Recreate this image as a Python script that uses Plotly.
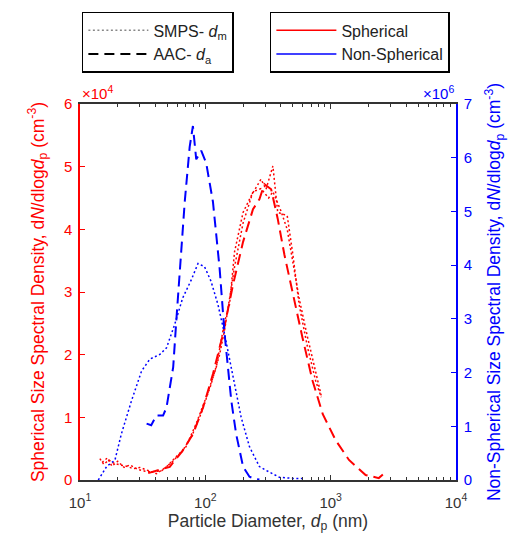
import plotly.graph_objects as go

# ---- data (diameter nm, values) ----
aac_ns_d = [34, 37, 40.7, 46, 49, 55.4, 58.8, 62.5, 68.5, 75, 79.6, 84.6, 92.7, 101.6, 115, 130, 142.6, 161, 176, 200, 225, 250, 270]
aac_ns_v = [1.05, 1.02, 1.2, 1.2, 1.35, 2.1, 3.0, 3.94, 5.18, 6.2, 6.59, 5.97, 6.13, 5.9, 5.18, 3.94, 2.71, 1.48, 0.86, 0.25, 0.06, 0.02, 0.01]

smps_ns_d = [14, 16.3, 19, 21.4, 25.8, 31, 36.1, 43.4, 49, 57, 66, 77.4, 87.4, 98.6, 111, 126, 142.6, 166, 193, 225, 270, 305, 390, 500, 600]
smps_ns_v = [0.0, 0.25, 0.37, 0.86, 1.48, 2.03, 2.25, 2.34, 2.46, 2.9, 3.39, 3.73, 4.03, 3.97, 3.7, 3.27, 2.71, 1.97, 1.17, 0.62, 0.25, 0.18, 0.05, 0.03, 0.03]

aac_s_d = [35, 43, 52, 66, 80, 96, 115, 138, 166, 200, 240, 270, 296, 335, 378, 428, 500, 596, 718, 865, 1100, 1400, 1900, 2420, 2650]
aac_s_v = [0.11, 0.16, 0.21, 0.47, 0.74, 1.16, 1.69, 2.32, 3.11, 3.8, 4.32, 4.48, 4.72, 4.64, 4.17, 3.59, 2.95, 2.27, 1.58, 1.05, 0.63, 0.32, 0.08, 0.03, 0.1]

smps_s_a_d = [14.4, 15.5, 17, 18.5, 20.8, 23.5, 26.6, 30, 34, 40.7, 49, 58.8, 70, 84.6, 101.6, 122, 142.6, 156, 171, 200, 233, 278, 305, 346, 378, 450, 500, 560, 655, 760, 840]
smps_s_a_v = [0.34, 0.25, 0.32, 0.27, 0.24, 0.22, 0.18, 0.2, 0.16, 0.1, 0.21, 0.37, 0.53, 0.9, 1.32, 1.79, 2.53, 2.8, 3.64, 4.27, 4.54, 4.8, 4.64, 5.01, 4.27, 4.22, 3.59, 2.8, 2.11, 1.58, 1.32]

smps_s_b_d = [15, 16.5, 18, 20, 22.5, 25, 29, 33, 38, 45, 55, 65, 78, 92, 110, 130, 142.6, 171, 200, 240, 278, 320, 346, 400, 450, 500, 560, 650, 760, 840]
smps_s_b_v = [0.28, 0.35, 0.22, 0.3, 0.2, 0.24, 0.17, 0.14, 0.13, 0.15, 0.3, 0.45, 0.7, 1.05, 1.5, 2.0, 2.4, 3.4, 4.1, 4.6, 4.65, 4.5, 4.6, 4.3, 4.0, 3.5, 2.9, 2.3, 1.7, 1.35]

y_left_ticks = [0, 1, 2, 3, 4, 5, 6]
y_right_ticks = [0, 1, 2, 3, 4, 5, 6, 7]
x_ticks = [10, 100, 1000, 10000]
x_tick_text = ["10<sup>1</sup>", "10<sup>2</sup>", "10<sup>3</sup>", "10<sup>4</sup>"]

RED = "#ff0000"
BLUE = "#0000ff"
GREY = "#333333"
FONT = "Liberation Sans, Arial, sans-serif"
TICK = 15
TITLE = 17.5

fig = go.Figure()

# SMPS spherical (dotted, red)
for dd, vv in [(smps_s_a_d, smps_s_a_v), (smps_s_b_d, smps_s_b_v)]:
    fig.add_trace(go.Scatter(x=dd, y=[v * 1e4 for v in vv], mode="lines",
                             line=dict(color=RED, width=1.5, dash="2px,2.5px"),
                             showlegend=False, yaxis="y"))
# AAC spherical (dashed, red)
fig.add_trace(go.Scatter(x=aac_s_d, y=[v * 1e4 for v in aac_s_v], mode="lines",
                         line=dict(color=RED, width=2, dash="11px,6px"),
                         showlegend=False, yaxis="y"))
# SMPS non-spherical (dotted, blue)
fig.add_trace(go.Scatter(x=smps_ns_d, y=[v * 1e6 for v in smps_ns_v], mode="lines",
                         line=dict(color=BLUE, width=1.5, dash="2px,2.5px"),
                         showlegend=False, yaxis="y2"))
# AAC non-spherical (dashed, blue)
fig.add_trace(go.Scatter(x=aac_ns_d, y=[v * 1e6 for v in aac_ns_v], mode="lines",
                         line=dict(color=BLUE, width=2, dash="11px,6px"),
                         showlegend=False, yaxis="y2"))

# legend entries
fig.add_trace(go.Scatter(x=[None], y=[None], mode="lines", name="SMPS- <i>d</i><sub>m</sub>",
                         line=dict(color="#888888", width=1.5, dash="2px,2.5px"), legend="legend"))
fig.add_trace(go.Scatter(x=[None], y=[None], mode="lines", name="AAC- <i>d</i><sub>a</sub>",
                         line=dict(color="black", width=2, dash="10px,6px"), legend="legend"))
fig.add_trace(go.Scatter(x=[None], y=[None], mode="lines", name="Spherical",
                         line=dict(color=RED, width=1.5), legend="legend2"))
fig.add_trace(go.Scatter(x=[None], y=[None], mode="lines", name="Non-Spherical",
                         line=dict(color=BLUE, width=1.5), legend="legend2"))

minor_vals = [m * 10 ** e for e in range(1, 4) for m in range(2, 10)]

fig.update_layout(
    width=510, height=542,
    margin=dict(l=80, r=54, t=101, b=62),
    paper_bgcolor="white", plot_bgcolor="white",
    font=dict(family=FONT, size=TICK, color=GREY),
    xaxis=dict(type="log", range=[1, 4], tickvals=x_ticks, ticktext=x_tick_text,
               ticks="inside", ticklen=5, tickcolor=GREY, showgrid=False,
               showline=True, linecolor=GREY, linewidth=1.5, mirror="ticks",
               minor=dict(tickvals=minor_vals, ticks="inside", ticklen=3, tickcolor=GREY, showgrid=False),
               tickfont=dict(size=TICK, color=GREY), ticklabelstandoff=8, automargin=False,
               title=dict(text="Particle Diameter, <i>d</i><sub>p</sub> (nm)", standoff=0,
                          font=dict(size=TITLE, color=GREY)),
               zeroline=False),
    yaxis=dict(range=[0, 6e4], tickvals=[t * 1e4 for t in y_left_ticks],
               ticktext=[str(t) for t in y_left_ticks],
               ticks="inside", ticklen=5, tickcolor=RED, showgrid=False,
               showline=True, linecolor=RED, linewidth=1.5, automargin=False,
               tickfont=dict(size=TICK, color=RED), zeroline=False, ticklabelstandoff=3,
               title=dict(text="Spherical Size Spectral Density, d<i>N</i>/dlog<i>d</i><sub>p</sub> (cm<sup>-3</sup>)",
                          standoff=15, font=dict(size=TITLE, color=RED))),
    yaxis2=dict(range=[0, 7e6], overlaying="y", side="right",
                tickvals=[t * 1e6 for t in y_right_ticks],
                ticktext=[str(t) for t in y_right_ticks],
                ticks="inside", ticklen=5, tickcolor=BLUE, showgrid=False,
                showline=True, linecolor=BLUE, linewidth=1.5, automargin=False,
                tickfont=dict(size=TICK, color=BLUE), zeroline=False, ticklabelstandoff=3,
                title=dict(text="Non-Spherical Size Spectral Density, d<i>N</i>/dlog<i>d</i><sub>p</sub> (cm<sup>-3</sup>)",
                           standoff=17, font=dict(size=TITLE, color=BLUE))),
    legend=dict(x=0.005, y=1.245, xanchor="left", yanchor="top", bordercolor="black", borderwidth=1.5,
                bgcolor="white", font=dict(size=16, color="#222222"), tracegroupgap=0,
                itemwidth=60),
    legend2=dict(x=0.505, y=1.245, xanchor="left", yanchor="top", bordercolor="black", borderwidth=1.5,
                 bgcolor="white", font=dict(size=16, color="#222222"), itemwidth=60),
    annotations=[
        dict(text="×10<sup>4</sup>", x=0, y=1.0, xref="paper", yref="paper", xanchor="left", yanchor="bottom",
             showarrow=False, font=dict(size=TICK, color=RED), xshift=0),
        dict(text="×10<sup>6</sup>", x=1, y=1.0, xref="paper", yref="paper", xanchor="right", yanchor="bottom",
             showarrow=False, font=dict(size=TICK, color=BLUE), xshift=0),
    ],
)

fig.write_html("out.html")
